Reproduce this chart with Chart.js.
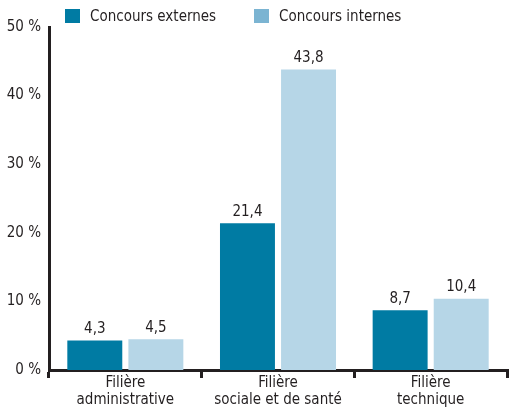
<!DOCTYPE html>
<html>
<head>
<meta charset="utf-8">
<script src="https://cdn.jsdelivr.net/npm/chart.js@4"></script>
<style>
  body { margin: 0; background: #fff; }
  #wrap { position: relative; width: 512px; height: 407px; }
  .lg { position: absolute; top: 7px; font: 15px "Liberation Sans Narrow", "DejaVu Sans Condensed", sans-serif; color: #231f20; }
  .lg span { display: inline-block; width: 15px; height: 14px; vertical-align: -2px; margin-right: 10px; }
</style>
</head>
<body>
<div id="wrap">
  <canvas id="c" width="512" height="407"></canvas>
  <div class="lg" style="left:65px"><span style="background:#007ba3"></span>Concours externes</div>
  <div class="lg" style="left:254px"><span style="background:#7bb4d2"></span>Concours internes</div>
</div>
<script>
  const categories = [["Filière", "administrative"], ["Filière", "sociale et de santé"], ["Filière", "technique"]];
  const externes = [4.3, 21.4, 8.7];
  const internes = [4.5, 43.8, 10.4];
  const yTicks = [0, 10, 20, 30, 40, 50];

  const FONT = '"Liberation Sans Narrow", "DejaVu Sans Condensed", sans-serif';
  const INK = '#231f20';

  // valeurs au-dessus des barres
  const valueLabels = {
    id: 'valueLabels',
    afterDatasetsDraw(chart) {
      const ctx = chart.ctx;
      ctx.save();
      ctx.font = '15px ' + FONT;
      ctx.fillStyle = INK;
      ctx.textAlign = 'center';
      ctx.textBaseline = 'bottom';
      chart.data.datasets.forEach((ds, i) => {
        chart.getDatasetMeta(i).data.forEach((bar, j) => {
          ctx.fillText(String(ds.data[j]).replace('.', ','), bar.x, bar.y - 4);
        });
      });
      ctx.restore();
    }
  };

  new Chart(document.getElementById('c'), {
    type: 'bar',
    data: {
      labels: categories,
      datasets: [
        { label: 'Concours externes', data: externes, backgroundColor: '#007ba3' },
        { label: 'Concours internes', data: internes, backgroundColor: '#b6d6e7' }
      ]
    },
    options: {
      responsive: false,
      animation: false,
      layout: { padding: { top: 27, right: 5, left: 0, bottom: 0 } },
      datasets: { bar: { categoryPercentage: 0.8, barPercentage: 0.9 } },
      plugins: { legend: { display: false }, tooltip: { enabled: false } },
      scales: {
        x: {
          afterFit: s => { s.height = 37; },
          grid: { offset: true, drawOnChartArea: false, tickLength: 8, lineWidth: 3, color: INK },
          border: { display: true, width: 3, color: INK },
          ticks: { color: INK, padding: -4, font: { family: FONT, size: 15, lineHeight: 1.15 } }
        },
        y: {
          min: 0, max: 50,
          afterFit: s => { s.width = 49; },
          afterBuildTicks: s => { s.ticks = yTicks.map(v => ({ value: v })); },
          grid: { display: false, drawTicks: false },
          border: { display: true, width: 3, color: INK },
          ticks: { color: INK, padding: 8, font: { family: FONT, size: 15 }, callback: v => v + ' %' }
        }
      }
    },
    plugins: [valueLabels]
  });
</script>
</body>
</html>
